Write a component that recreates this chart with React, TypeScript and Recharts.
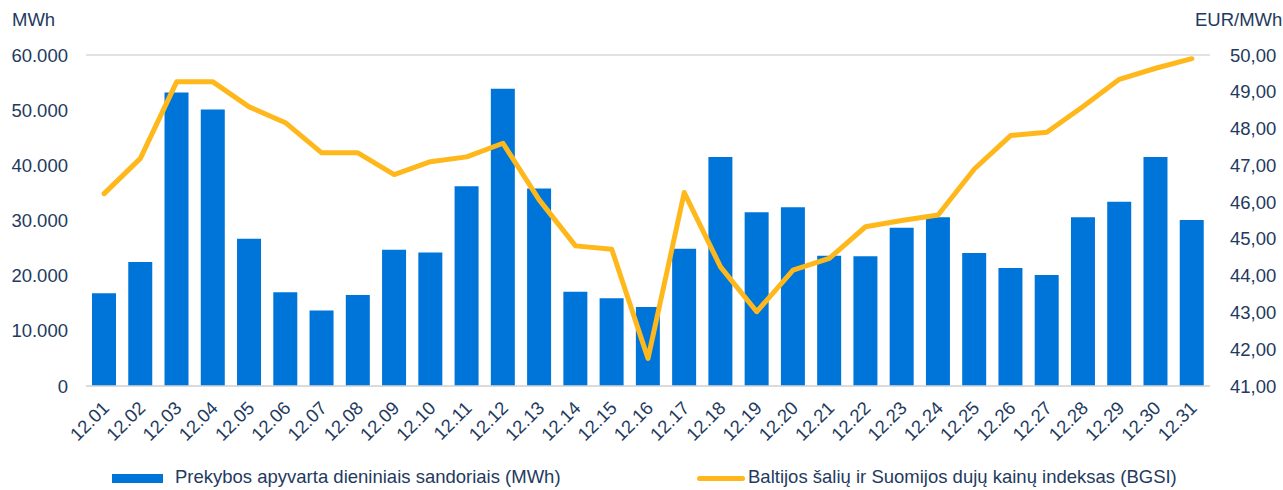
import React from "react";
import {
  Bar,
  CartesianGrid,
  ComposedChart,
  Legend,
  Line,
  XAxis,
  YAxis,
} from "recharts";

const days = [
  "12.01", "12.02", "12.03", "12.04", "12.05", "12.06", "12.07", "12.08", "12.09", "12.10",
  "12.11", "12.12", "12.13", "12.14", "12.15", "12.16", "12.17", "12.18", "12.19", "12.20",
  "12.21", "12.22", "12.23", "12.24", "12.25", "12.26", "12.27", "12.28", "12.29", "12.30",
  "12.31",
];

// Prekybos apyvarta dieniniais sandoriais (MWh)
const volume = [
  16800, 22500, 53200, 50100, 26700, 17000, 13700, 16500, 24700, 24200,
  36200, 53900, 35800, 17100, 15900, 14300, 24900, 41500, 31500, 32400,
  23600, 23500, 28700, 30600, 24100, 21400, 20100, 30600, 33400, 41500,
  30100,
];

// BGSI, EUR/MWh
const bgsi = [
  46.23, 47.19, 49.27, 49.27, 48.59, 48.16, 47.34, 47.34, 46.75, 47.1,
  47.23, 47.6, 46.06, 44.81, 44.72, 41.75, 46.26, 44.24, 43.02, 44.15,
  44.47, 45.33, 45.5, 45.65, 46.9, 47.81, 47.9, 48.6, 49.34, 49.64,
  49.9,
];

const leftTicks = [0, 10000, 20000, 30000, 40000, 50000, 60000];
const rightTicks = [41, 42, 43, 44, 45, 46, 47, 48, 49, 50];

const data = days.map((d, i) => ({ day: d, volume: volume[i], bgsi: bgsi[i] }));

const TEXT = "#233a5e";
const BLUE = "#0075d9";
const GOLD = "#ffb81c";
const FONT = "'Liberation Sans', Arial, sans-serif";

const fmtVolume = (v: number) =>
  v === 0 ? "0" : v.toLocaleString("de-DE", { maximumFractionDigits: 0 });
const fmtPrice = (v: number) => v.toFixed(2).replace(".", ",");

const DayTick = (props: any) => {
  const { x, y, payload } = props;
  return (
    <g transform={`translate(${x + 2},${y + 11})`}>
      <text
        transform="rotate(-45)"
        textAnchor="end"
        fill={TEXT}
        fontSize={18.5}
        fontFamily={FONT}
        dy={6}
      >
        {payload.value}
      </text>
    </g>
  );
};

const LegendBox = () => (
  <div style={{ position: "relative", width: 1283, height: 24, fontFamily: FONT, fontSize: 18.5, color: TEXT }}>
    <span style={{ position: "absolute", left: 112, top: 8, width: 51, height: 9, background: BLUE }} />
    <span style={{ position: "absolute", left: 175, top: 0, whiteSpace: "nowrap" }}>
      Prekybos apyvarta dieniniais sandoriais (MWh)
    </span>
    <span style={{ position: "absolute", left: 697, top: 10, width: 48, height: 5, borderRadius: 3, background: GOLD }} />
    <span style={{ position: "absolute", left: 748, top: 0, whiteSpace: "nowrap" }}>
      Baltijos šalių ir Suomijos dujų kainų indeksas (BGSI)
    </span>
  </div>
);

export default function App() {
  return (
    <div style={{ position: "relative", width: 1283, height: 490, background: "#fff" }}>
      <style>{`body{margin:0}`}</style>
      <div style={{ position: "absolute", left: 12, top: 9, fontFamily: FONT, fontSize: 18.5, color: TEXT }}>MWh</div>
      <div style={{ position: "absolute", left: 1195, top: 9, fontFamily: FONT, fontSize: 18.5, color: TEXT }}>EUR/MWh</div>
      <ComposedChart
        width={1283}
        height={490}
        data={data}
        barSize={24}
        margin={{ top: 55, right: 0, left: 0, bottom: 0 }}
      >
        <CartesianGrid vertical={false} stroke="#d9d9d9" strokeWidth={1.5} />
        <XAxis
          dataKey="day"
          interval={0}
          height={104}
          tick={<DayTick />}
          tickLine={false}
          axisLine={{ stroke: "#d9d9d9", strokeWidth: 1.5 }}
        />
        <YAxis
          yAxisId="left"
          width={86}
          domain={[0, 60000]}
          ticks={leftTicks}
          tickFormatter={fmtVolume}
          tick={{ fill: TEXT, fontSize: 18.5, fontFamily: FONT }}
          tickMargin={12}
          tickLine={false}
          axisLine={false}
        />
        <YAxis
          yAxisId="right"
          orientation="right"
          width={73}
          domain={[41, 50]}
          ticks={rightTicks}
          tickFormatter={fmtPrice}
          tick={{ fill: TEXT, fontSize: 18.5, fontFamily: FONT }}
          tickMargin={14}
          tickLine={false}
          axisLine={false}
        />
        <Legend
          layout="horizontal"
          verticalAlign="middle"
          align="center"
          wrapperStyle={{ position: "absolute", left: 0, top: 466, width: 1283 }}
          content={<LegendBox />}
        />
        <Bar yAxisId="left" dataKey="volume" fill={BLUE} isAnimationActive={false} />
        <Line
          yAxisId="right"
          dataKey="bgsi"
          type="linear"
          stroke={GOLD}
          strokeWidth={5}
          dot={false}
          strokeLinejoin="round"
          strokeLinecap="round"
          isAnimationActive={false}
        />
      </ComposedChart>
    </div>
  );
}
